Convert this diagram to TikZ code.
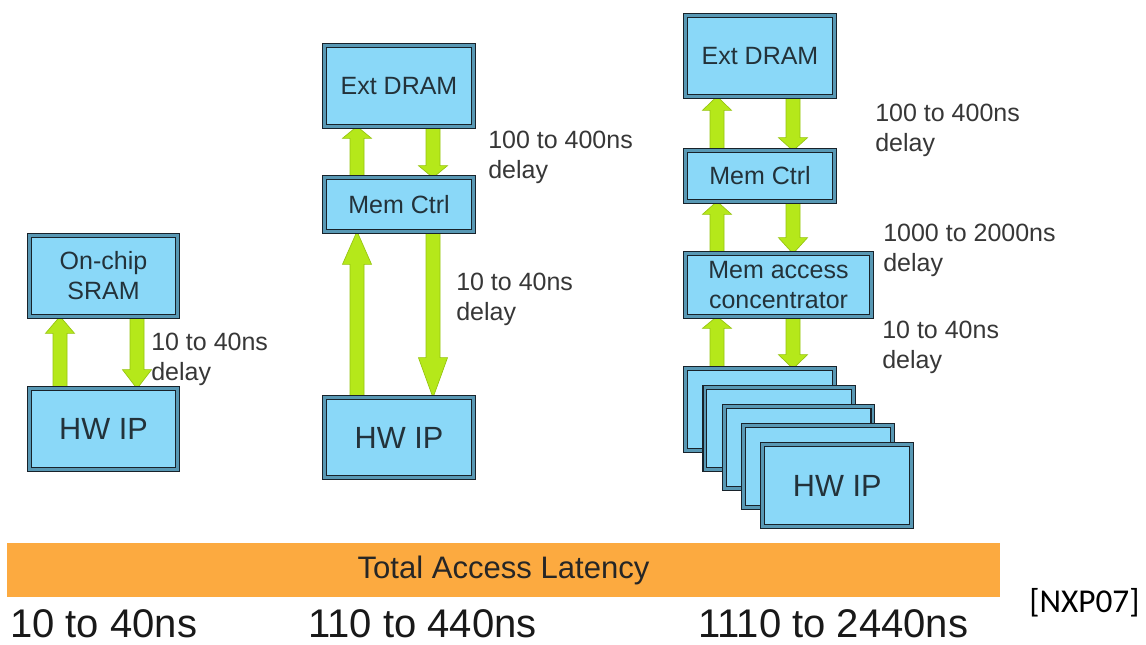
\documentclass[tikz,border=0pt]{standalone}
\usepackage{fontspec}
\setmainfont{Liberation Sans}
\newfontfamily\calfont{Carlito}
\usetikzlibrary{calc}
\pgfdeclarelayer{back}
\pgfdeclarelayer{bg}
\pgfsetlayers{back,bg,main}
\definecolor{boxfill}{RGB}{138,216,248}
\definecolor{boxband}{RGB}{88,152,180}
\definecolor{boxline}{RGB}{24,34,42}
\definecolor{arrfill}{RGB}{181,232,26}
\definecolor{arredge}{RGB}{150,196,16}
\definecolor{barfill}{RGB}{252,170,64}
\definecolor{lbl}{RGB}{55,55,55}
\definecolor{btxt}{RGB}{35,50,58}
\tikzset{
  box/.style={draw=boxline, line width=0.85pt, double=boxband, double distance=2.1pt,
    fill=boxfill, inner sep=0pt, outer sep=0pt, text=btxt, align=center,
    font=\fontsize{18.75}{22.5}\selectfont},
  bsz/.style 2 args={minimum width={(#1-5.3)*0.75pt}, minimum height={(#2-5.3)*0.75pt}},
  hwtext/.style={font=\fontsize{23}{27}\selectfont},
  lbltext/.style={anchor=north west, inner sep=0pt, align=left, text=lbl,
    font=\fontsize{18.75}{22.5}\selectfont},
  bottomtext/.style={anchor=base west, inner sep=0pt, text=black!90,
    font=\fontsize{30}{36}\selectfont},
}
\newcommand\blockarrow[3]{%
  \begin{pgfonlayer}{bg}
  \filldraw[fill=arrfill, draw=arredge, line width=0.5pt]
    let \p1=(#1), \p2=(#2), \n1={(\y2-\y1)/abs(\y2-\y1)} in
    (\x1-5.25pt,\y1) -- (\x1-5.25pt,{\y2-(\n1)*#3*0.75pt})
    -- (\x1-10.9pt,{\y2-(\n1)*#3*0.75pt}) -- (\x1,\y2)
    -- (\x1+10.9pt,{\y2-(\n1)*#3*0.75pt}) -- (\x1+5.25pt,{\y2-(\n1)*#3*0.75pt})
    -- (\x1+5.25pt,\y1) -- cycle;
  \end{pgfonlayer}}
\begin{document}
\begin{tikzpicture}[x=0.75pt,y=-0.75pt]
\useasboundingbox (0,0) rectangle (1146,644);
\begin{pgfonlayer}{back}
\fill[white] (0,0) rectangle (1146,644);
\end{pgfonlayer}

% ---------- left column ----------
\node[box, bsz={153}{86}] (sram) at (103.5,276) {On-chip\\SRAM};
\node[box, bsz={153}{86}, hwtext] (hwA) at (103.5,429) {HW IP};
\coordinate (xa1) at (60,0);
\coordinate (xa2) at (137,0);
\blockarrow{hwA.north -| xa1}{sram.south -| xa1}{17}
\blockarrow{sram.south -| xa2}{hwA.north -| xa2}{19}
\node[lbltext] (lblA) at (151,333) {10 to 40ns\\delay};

% ---------- middle column ----------
\node[box, bsz={154}{86}] (dramB) at (399,86) {Ext DRAM};
\node[box, bsz={154}{59}] (memB) at (399,204.5) {Mem Ctrl};
\node[box, bsz={154}{85}, hwtext] (hwB) at (399,437.5) {HW IP};
\coordinate (xb1) at (357,0);
\coordinate (xb2) at (433,0);
\blockarrow{memB.north -| xb1}{dramB.south -| xb1}{12}
\blockarrow{dramB.south -| xb2}{memB.north -| xb2}{12}
\blockarrow{hwB.north -| xb1}{memB.south -| xb1}{33}
\blockarrow{memB.south -| xb2}{hwB.north -| xb2}{40}
\node[lbltext] (lblB1) at (488,131) {100 to 400ns\\delay};
\node[lbltext] (lblB2) at (456,273) {10 to 40ns\\delay};

% ---------- right column ----------
\node[box, bsz={154}{86}] (dramC) at (760,56) {Ext DRAM};
\node[box, bsz={154}{56}] (memC) at (760,176) {Mem Ctrl};
\node[box, bsz={191}{68}] (conc) at (778.5,285) {Mem access\\concentrator};
\node[box, bsz={154}{87}] (hw1) at (760,409.5) {};
\node[box, bsz={154}{87}] (hw2) at (779.3,428.5) {};
\node[box, bsz={154}{87}] (hw3) at (798.6,447.5) {};
\node[box, bsz={154}{87}] (hw4) at (817.9,466.5) {};
\node[box, bsz={154}{87}, hwtext] (hw5) at (837.2,485.5) {HW IP};
\coordinate (xc1) at (717,0);
\coordinate (xc2) at (793,0);
\blockarrow{memC.north -| xc1}{dramC.south -| xc1}{14}
\blockarrow{dramC.south -| xc2}{memC.north -| xc2}{13}
\blockarrow{conc.north -| xc1}{memC.south -| xc1}{13}
\blockarrow{memC.south -| xc2}{conc.north -| xc2}{16}
\blockarrow{hw1.north -| xc1}{conc.south -| xc1}{12}
\blockarrow{conc.south -| xc2}{hw1.north -| xc2}{14}
\node[lbltext] (lblC1) at (875,104) {100 to 400ns\\delay};
\node[lbltext] (lblC2) at (883,224) {1000 to 2000ns\\delay};
\node[lbltext] (lblC3) at (882,321) {10 to 40ns\\delay};

% ---------- latency bar ----------
\node[fill=barfill, inner sep=0pt, minimum width=744.75pt, minimum height=40.5pt,
      text=black!85, font=\fontsize{23.3}{28}\selectfont] (bar) at (503.5,570) {Total Access Latency};
\node[bottomtext] (tA) at (10,637) {10 to 40ns};
\node[bottomtext] (tB) at (308,637) {110 to 440ns};
\node[bottomtext] (tC) at (698,637) {1110 to 2440ns};
\node[anchor=west, inner sep=0pt, font=\calfont\fontsize{25}{30}\selectfont] (ref) at (1029,603) {[NXP07]};
\end{tikzpicture}
\end{document}
